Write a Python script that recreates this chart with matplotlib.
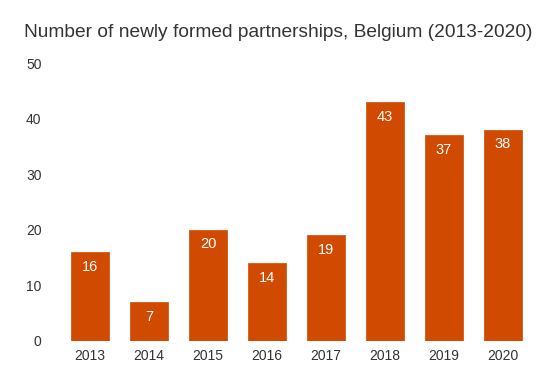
import numpy as np
from matplotlib import pyplot as plt

years = ['2013', '2014', '2015', '2016', '2017', '2018', '2019', '2020']
counts = [16, 7, 20, 14, 19, 43, 37, 38]
y_ticks = [0, 10, 20, 30, 40, 50]

bar_color = '#d04a02'
text_color = '#333333'

plt.rcParams['font.family'] = ['Liberation Sans', 'DejaVu Sans']

fig = plt.figure(figsize=(5.6, 3.83), dpi=100)
ax = fig.add_axes([0.0817, 0.1097, 0.8955, 0.7258])

x = np.arange(len(years))
ax.bar(x, counts, width=0.65, color=bar_color, edgecolor=bar_color, linewidth=0.5)

# value labels inside the top of each bar
for xi, v in zip(x, counts):
    ax.annotate(str(v), xy=(xi, v), xytext=(0, -10.5), textcoords='offset points',
                ha='center', va='center', color='white', fontsize=10.5)

ax.set_xlim(-0.75, len(years) - 0.25)
ax.set_ylim(0, 50)
ax.set_xticks(x)
ax.set_xticklabels(years)
ax.set_yticks(y_ticks)
ax.tick_params(length=0, labelsize=10, colors=text_color, pad=6)
ax.tick_params(axis='y', pad=3)
for s in ax.spines.values():
    s.set_visible(False)

fig.text(0.497, 0.915, 'Number of newly formed partnerships, Belgium (2013-2020)',
         ha='center', va='center', fontsize=13.8, color=text_color)

fig.savefig('out.png', dpi=100)
